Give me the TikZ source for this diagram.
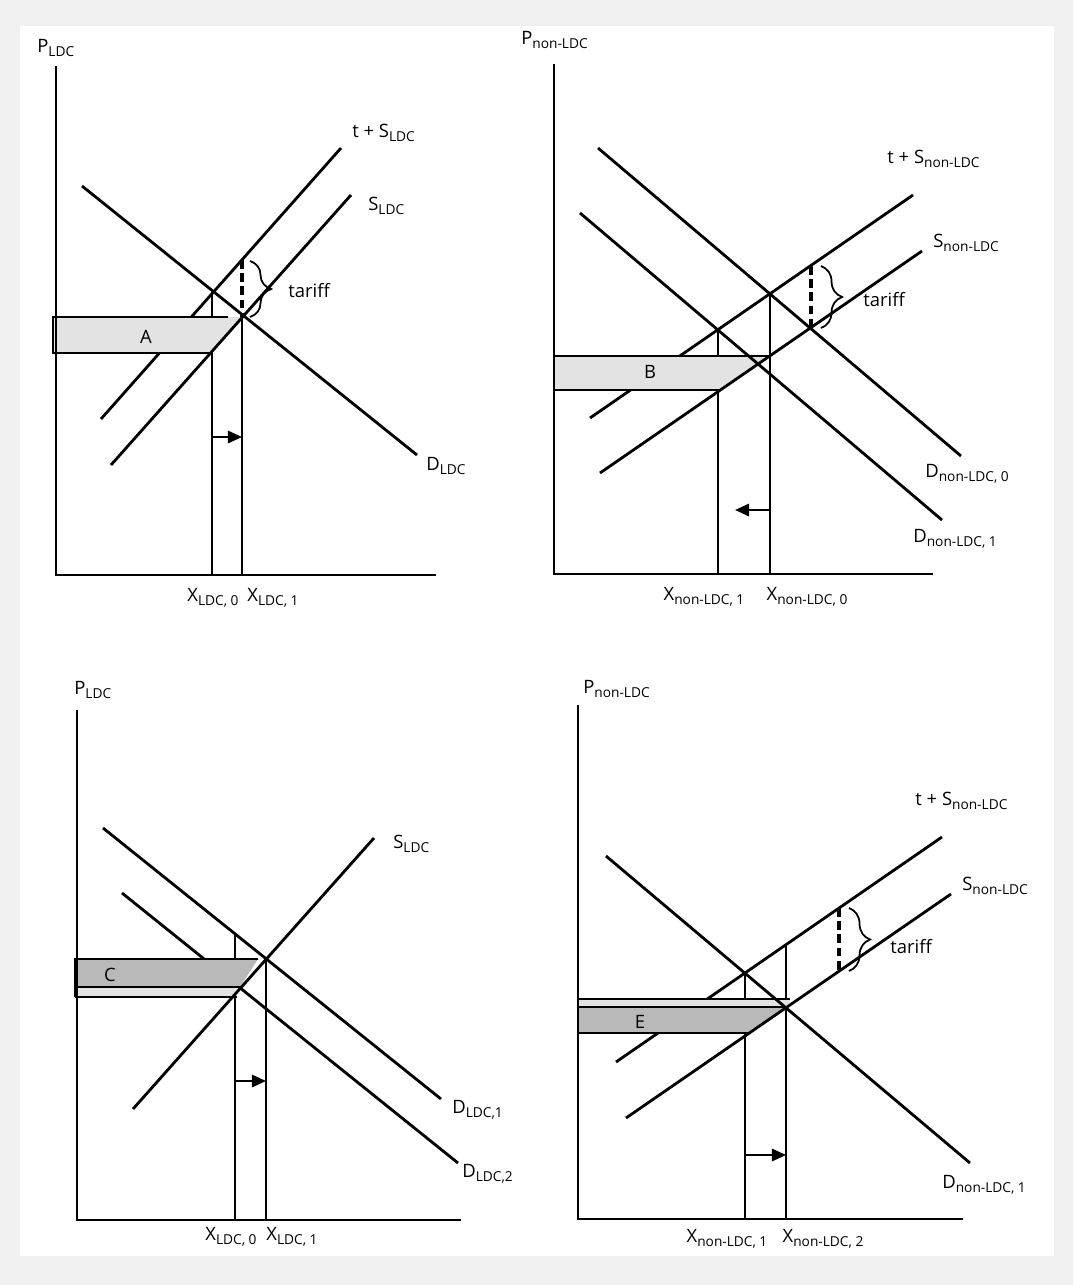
\documentclass[tikz,border=0pt]{standalone}
\usepackage{fontspec}
\setmainfont{Open Sans}
\usetikzlibrary{arrows.meta,decorations.pathreplacing,positioning}
\newcommand{\lo}[1]{\raisebox{-2.8pt}{\fontsize{7.8}{8}\selectfont #1}}

\begin{document}
\begin{tikzpicture}[
  x=0.02cm, y=-0.02cm,
  font=\fontsize{10.5}{12}\selectfont,
  mkt/.style={line width=1.6pt},
  axisline/.style={line width=1.1pt},
  guide/.style={line width=0.8pt},
  areafill/.style={fill=gray!22},
  areadark/.style={fill=gray!55},
  boxedge/.style={line width=1.5pt},
  tarline/.style={line width=2pt, dash pattern=on 5pt off 2.5pt},
  tarbrace/.style={decorate, decoration={brace, amplitude=12pt}, line width=1pt},
  qshift/.style={-{Triangle[length=8pt,width=7pt]}, line width=1.3pt},
  lbl/.style={inner sep=0pt}
]

\fill[gray!12] (0,0) rectangle (1073,1285);
\fill[white] (20,26) rectangle (1054,1256);
\useasboundingbox (0,0) rectangle (1073,1285);

% LDC, tariff on imports
\coordinate (a0) at (212,292);
\coordinate (a1) at (242,317);
\draw[mkt] (101,419) -- (341,148);
\draw[guide] (a0) -- (212,575);
\draw[guide] (a1) -- (242,575);
\fill[areafill] (53,317) -- (a1) -- (211,353) -- (53,353) -- cycle;
\draw[boxedge] (228,317) -- (53,317) -- (53,353) -- (211,353);
\draw[mkt] (111,465) -- (351,195);
\draw[mkt] (82,186) -- (417,455);
\draw[axisline] (56,66) -- (56,575) -- (436,575);
\draw[tarline] (242,260) -- (a1);
\draw[tarbrace] (250,261) -- (250,317);
\draw[qshift] (212,437) -- (242,437);

\node[lbl, anchor=base west] (pa) at (37,52) {P\lo{LDC}};
\node[lbl, anchor=base west] (tsa) at (352,137) {t + S\lo{LDC}};
\node[lbl, anchor=base west] (sa) at (368,210) {S\lo{LDC}};
\node[lbl, anchor=base west] (da) at (426,470) {D\lo{LDC}};
\node[lbl, anchor=base west] (tara) at (288,297) {tariff};
\node[lbl, anchor=base] (lab-a) at (146,343) {A};
\node[lbl, anchor=base] (xa0) at (213,601) {X\lo{LDC, 0}};
\node[lbl, anchor=base] (xa1) at (273,601) {X\lo{LDC, 1}};

% non-LDC, tariff on imports
\coordinate (b0) at (770,294);
\coordinate (b1) at (718,330);
\coordinate (b2) at (811,328);
\draw[mkt] (590,418) -- (913,195);
\draw[guide] (b0) -- (770,574);
\draw[guide] (b1) -- (718,574);
\fill[areafill] (554,356) -- (770,356) -- (720,390) -- (554,390) -- cycle;
\draw[boxedge] (770,356) -- (554,356);
\draw[boxedge] (554,390) -- (720,390);
\draw[mkt] (600,473) -- (922,251);
\draw[mkt] (598,148) -- (961,456);
\draw[mkt] (580,213) -- (942,520);
\draw[axisline] (554,64) -- (554,574) -- (933,574);
\draw[tarline] (811,266) -- (b2);
\draw[tarbrace] (821,266) -- (821,328);
\draw[qshift] (770,510) -- (735,510);

\node[lbl, anchor=base east] (pb) at (588,44) {P\lo{non-LDC}};
\node[lbl, anchor=base west] (tsb) at (887,163) {t + S\lo{non-LDC}};
\node[lbl, anchor=base west] (sb) at (933,247) {S\lo{non-LDC}};
\node[lbl, anchor=base west] (db0) at (925,477) {D\lo{non-LDC, 0}};
\node[lbl, anchor=base west] (db1) at (913,542) {D\lo{non-LDC, 1}};
\node[lbl, anchor=base west] (tarb) at (863,306) {tariff};
\node[lbl, anchor=base] (lab-b) at (650,378) {B};
\node[lbl, anchor=base] (xb1) at (704,600) {X\lo{non-LDC, 1}};
\node[lbl, anchor=base] (xb0) at (807,600) {X\lo{non-LDC, 0}};

% LDC, demand shift
\coordinate (c0) at (235,934);
\coordinate (c1) at (266,959);
\draw[mkt] (122,893) -- (458,1163);
\draw[guide] (c0) -- (235,1220);
\draw[guide] (c1) -- (266,1220);
\fill[areafill] (75,987) rectangle (237,997);
\fill[areadark] (75,959) -- (258,959) -- (240,987) -- (75,987) -- cycle;
\draw[boxedge] (258,959) -- (75,959) -- (75,997);
\draw[boxedge] (75,987) -- (240,987);
\draw[guide] (75,997) -- (237,997);
\draw[mkt] (133,1109) -- (374,838);
\draw[mkt] (103,828) -- (441,1099);
\draw[axisline] (77,710) -- (77,1220) -- (461,1220);
\draw[qshift] (235,1081) -- (266,1081);

\node[lbl, anchor=base west] (pc) at (74,694) {P\lo{LDC}};
\node[lbl, anchor=base west] (sc) at (393,848) {S\lo{LDC}};
\node[lbl, anchor=base west] (dc1) at (452,1113) {D\lo{LDC,1}};
\node[lbl, anchor=base west] (dc2) at (462,1177) {D\lo{LDC,2}};
\node[lbl, anchor=base] (lab-c) at (110,981) {C};
\node[lbl, anchor=base] (xc0) at (231,1240) {X\lo{LDC, 0}};
\node[lbl, anchor=base] (xc1) at (292,1240) {X\lo{LDC, 1}};

% non-LDC, demand shift
\coordinate (e0) at (745,973);
\coordinate (e1) at (786,945);
\coordinate (e2) at (839,971);
\draw[mkt] (616,1062) -- (942,837);
\draw[guide] (e0) -- (745,1219);
\draw[guide] (e1) -- (786,1219);
\fill[areafill] (578,999) rectangle (790,1007);
\fill[areadark] (578,1007) -- (787,1007) -- (749,1033) -- (578,1033) -- cycle;
\draw[guide] (578,999) -- (790,999);
\draw[boxedge] (578,1007) -- (787,1007);
\draw[boxedge] (578,1033) -- (749,1033);
\draw[boxedge] (578,996) -- (578,1036);
\draw[mkt] (626,1118) -- (951,894);
\draw[mkt] (606,856) -- (970,1163);
\draw[axisline] (578,705) -- (578,1219) -- (963,1219);
\draw[tarline] (839,908) -- (e2);
\draw[tarbrace] (849,908) -- (849,971);
\draw[qshift] (745,1155) -- (786,1155);

\node[lbl, anchor=base west] (pe) at (583,693) {P\lo{non-LDC}};
\node[lbl, anchor=base west] (tse) at (915,805) {t + S\lo{non-LDC}};
\node[lbl, anchor=base west] (se) at (962,890) {S\lo{non-LDC}};
\node[lbl, anchor=base west] (de) at (942,1188) {D\lo{non-LDC, 1}};
\node[lbl, anchor=base west] (tare) at (890,953) {tariff};
\node[lbl, anchor=base] (lab-e) at (640,1028) {E};
\node[lbl, anchor=base] (xe1) at (727,1242) {X\lo{non-LDC, 1}};
\node[lbl, anchor=base] (xe2) at (823,1242) {X\lo{non-LDC, 2}};

\end{tikzpicture}
\end{document}
